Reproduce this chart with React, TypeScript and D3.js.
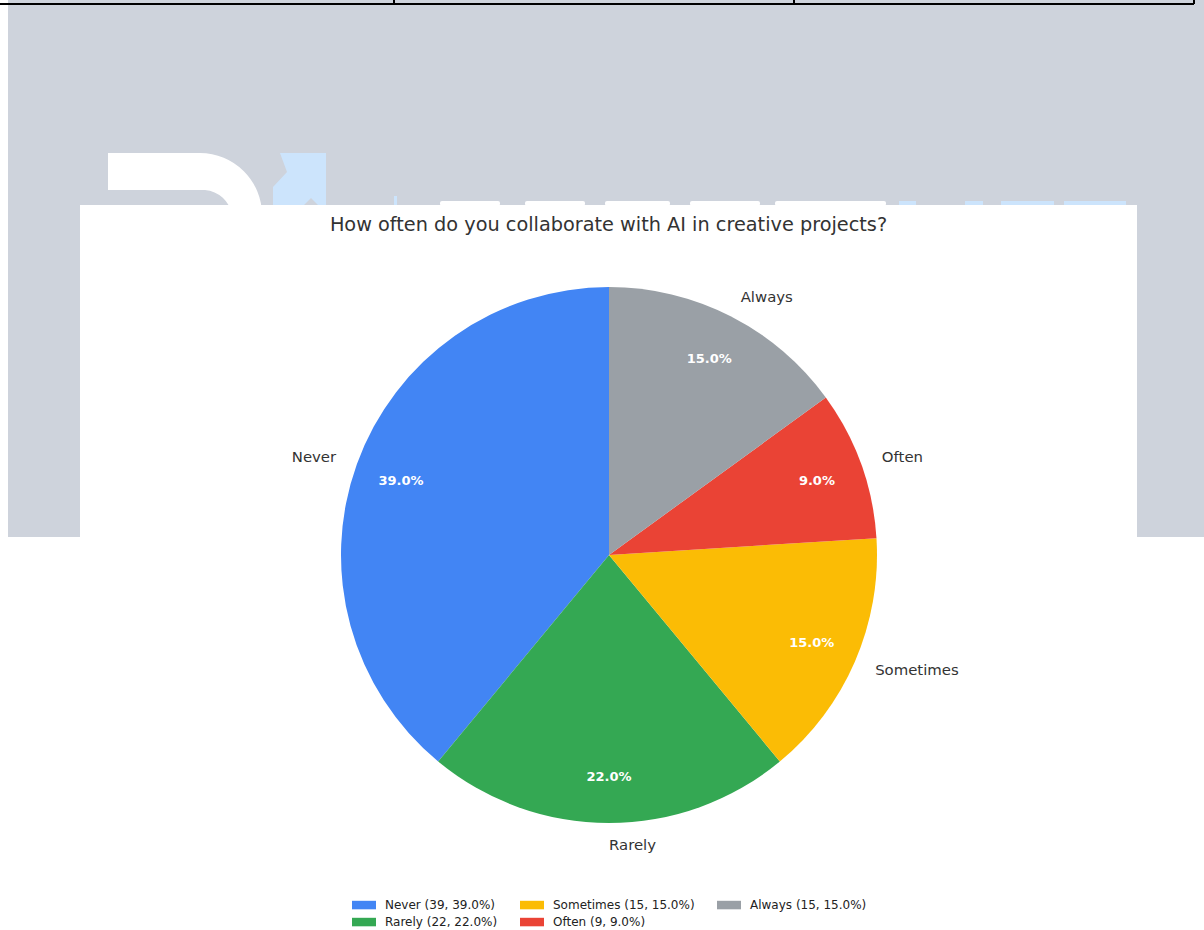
import React from "react";
import * as d3 from "d3";

const categories = ["Never", "Rarely", "Sometimes", "Often", "Always"];
const values = [39, 22, 15, 9, 15];
const colors = ["#4285F4", "#34A853", "#FBBC05", "#EA4335", "#9AA0A6"];
const title = "How often do you collaborate with AI in creative projects?";

const W = 1204;
const H = 930;
const FONT = "'DejaVu Sans', sans-serif";

export default function App() {
  const cx = 609;
  const cy = 555;
  const r = 268;
  const total = d3.sum(values);
  const pie = d3
    .pie<number>()
    .sort(null)
    .startAngle(0)
    .endAngle(-2 * Math.PI)
    .value((d) => d);
  const arcs = pie(values);
  const arc = d3.arc<any>().innerRadius(0).outerRadius(r);

  const pctDist = 221;
  const lblDist = 290;

  // legend layout (column-major, 3 columns x 2 rows)
  const colX = [352, 520, 717];
  const rowY = [905, 922];

  return (
    <svg
      width={W}
      height={H}
      style={{ position: "absolute", left: 0, top: 0, display: "block" }}
      fontFamily={FONT}
    >
      <rect x={0} y={0} width={W} height={H} fill="#ffffff" />
      {/* page background band */}
      <rect x={8} y={0} width={W - 8} height={537} fill="#CED3DC" />
      {/* table row border above */}
      <line x1={0} x2={1194} y1={4} y2={4} stroke="#000" strokeWidth={2} />
      {[394, 794, 1194].map((x) => (
        <line key={x} x1={x} x2={x} y1={0} y2={4} stroke="#000" strokeWidth={2} />
      ))}
      {/* watermark logo */}
      <path
        d="M108,153 H200 A62,62 0 0 1 262,215 H232 A30,30 0 0 0 205,190 H108 Z"
        fill="#ffffff"
      />
      <path
        d="M280,153 H326 V205 H318 L311,198 L304,205 H273 V187 L287,172 Z"
        fill="#CCE4FC"
      />
      <rect x={394} y={196} width={3} height={10} fill="#CCE4FC" />
      {[
        [440, 500],
        [525, 585],
        [605, 670],
        [690, 760],
        [775, 840],
        [825, 886],
      ].map(([a, b], i) => (
        <rect key={"w" + i} x={a} y={201} width={b - a} height={5} rx={2} fill="#ffffff" />
      ))}
      {[
        [899, 916],
        [965, 983],
        [1001, 1054],
        [1064, 1126],
      ].map(([a, b], i) => (
        <rect key={"b" + i} x={a} y={201} width={b - a} height={5} fill="#CCE4FC" />
      ))}
      {/* chart card */}
      <rect x={80} y={205} width={1057} height={H - 205} fill="#ffffff" />
      <text
        x={608.5}
        y={224}
        textAnchor="middle"
        dominantBaseline="central"
        fontSize={19.3}
        fill="#333333"
      >
        {title}
      </text>
      <g transform={`translate(${cx},${cy})`}>
        {arcs.map((a, i) => (
          <path key={i} d={arc(a) as string} fill={colors[i]} />
        ))}
        {arcs.map((a, i) => {
          const mid = (a.startAngle + a.endAngle) / 2;
          const px = pctDist * Math.sin(mid);
          const py = -pctDist * Math.cos(mid);
          const lx = lblDist * Math.sin(mid);
          const ly = -lblDist * Math.cos(mid);
          return (
            <g key={"l" + i}>
              <text
                x={px}
                y={py}
                textAnchor="middle"
                dominantBaseline="central"
                fontSize={13}
                fontWeight="bold"
                fill="#ffffff"
              >
                {((values[i] / total) * 100).toFixed(1) + "%"}
              </text>
              <text
                x={lx}
                y={ly}
                textAnchor={lx > -0.5 ? "start" : "end"}
                dominantBaseline="central"
                fontSize={14.9}
                fill="#333333"
              >
                {categories[i]}
              </text>
            </g>
          );
        })}
      </g>
      {categories.map((c, i) => {
        const col = Math.floor(i / 2);
        const row = i % 2;
        const x = colX[col];
        const y = rowY[row];
        return (
          <g key={"lg" + i}>
            <rect x={x} y={y - 4.2} width={24} height={8.5} fill={colors[i]} />
            <text
              x={x + 33}
              y={y}
              dominantBaseline="central"
              fontSize={12}
              fill="#222222"
            >
              {`${c} (${values[i]}, ${((values[i] / total) * 100).toFixed(1)}%)`}
            </text>
          </g>
        );
      })}
    </svg>
  );
}
